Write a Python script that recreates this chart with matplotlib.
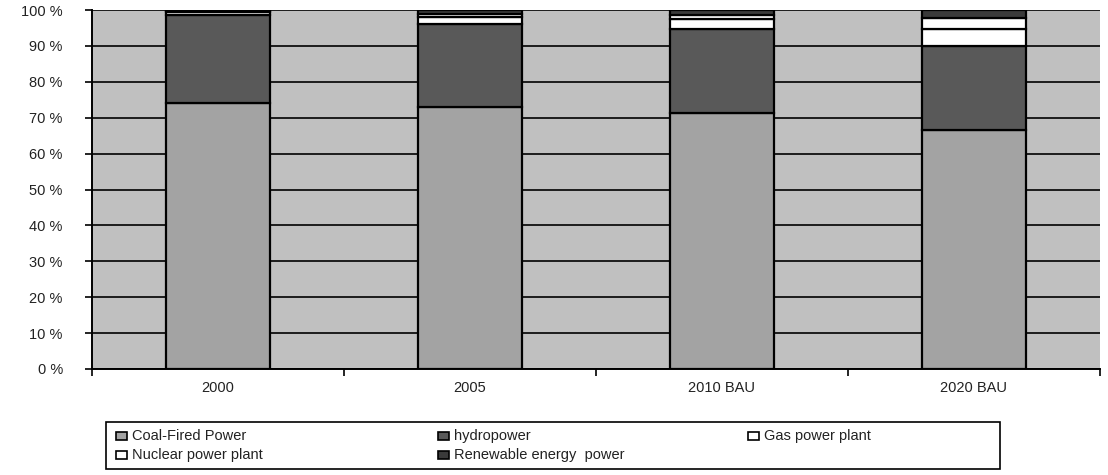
import matplotlib
matplotlib.use("Agg")
import matplotlib.pyplot as plt
import numpy as np
from matplotlib.patches import Rectangle

# power generation mix, share of total (%)
years = ["2000", "2005", "2010 BAU", "2020 BAU"]
coal = [74.0, 73.0, 71.4, 66.5]
hydro = [24.5, 23.1, 23.2, 23.5]
gas = [1.0, 2.0, 2.8, 4.7]
nuclear = [0.3, 0.9, 1.2, 3.1]
renewable = [0.2, 1.0, 1.4, 2.2]

series = [
    ("Coal-Fired Power", coal, "#a3a3a3"),
    ("hydropower", hydro, "#595959"),
    ("Gas power plant", gas, "#ffffff"),
    ("Nuclear power plant", nuclear, "#ffffff"),
    ("Renewable energy  power", renewable, "#3a3a3a"),
]

plt.rcParams["font.family"] = ["Liberation Sans", "DejaVu Sans"]

W, H = 1108, 475
fig = plt.figure(figsize=(W / 100, H / 100), dpi=100)
ax = fig.add_axes([92 / W, 1 - 369 / H, 1008 / W, 359 / H])
ax.set_facecolor("#c0c0c0")

x = np.arange(len(years))
bottom = np.zeros(len(years))
for name, vals, col in series:
    ax.bar(x, vals, bottom=bottom, width=0.41, color=col,
           edgecolor="black", linewidth=1.6, zorder=3)
    bottom += np.array(vals)

ax.set_xlim(-0.5, len(years) - 0.5)
ax.set_ylim(0, 100)
ax.set_yticks(np.arange(0, 101, 10))
ax.set_yticklabels([f"{v} %" for v in range(0, 101, 10)])
ax.yaxis.grid(True, color="black", linewidth=1.2, zorder=1)
ax.set_axisbelow(True)

# category labels centred, tick marks on category boundaries
ax.set_xticks(x)
ax.set_xticklabels(years)
ax.tick_params(axis="x", length=0, pad=9, labelsize=10.5, colors="#222222")
ax.set_xticks(np.arange(-0.5, len(years)), minor=True)
ax.tick_params(axis="x", which="minor", length=5, width=1.2, direction="out")
ax.tick_params(axis="y", length=5, width=1.2, direction="out", labelsize=10.5,
               pad=16, labelcolor="#222222")

for s in ["top", "right"]:
    ax.spines[s].set_visible(False)
ax.spines["left"].set_linewidth(1.4)
ax.spines["bottom"].set_linewidth(1.4)


def fx(px):
    return px / W


def fy(py):
    return 1 - py / H


# legend box: two rows, three fixed columns
fig.add_artist(Rectangle((fx(106), fy(469)), fx(1000) - fx(106), fy(422) - fy(469),
                         transform=fig.transFigure, facecolor="white",
                         edgecolor="black", linewidth=1.2))
slots = [(116, 436), (438, 436), (748, 436), (116, 455), (438, 455)]
for (name, vals, col), (sx, sy) in zip(series, slots):
    fig.add_artist(Rectangle((fx(sx), fy(sy + 4)), fx(11), 8 / H,
                             transform=fig.transFigure, facecolor=col,
                             edgecolor="black", linewidth=1.2))
    fig.text(fx(sx + 16), fy(sy), name, fontsize=10.5, color="#222222",
             va="center", ha="left")

fig.savefig("out.png", dpi=100)
